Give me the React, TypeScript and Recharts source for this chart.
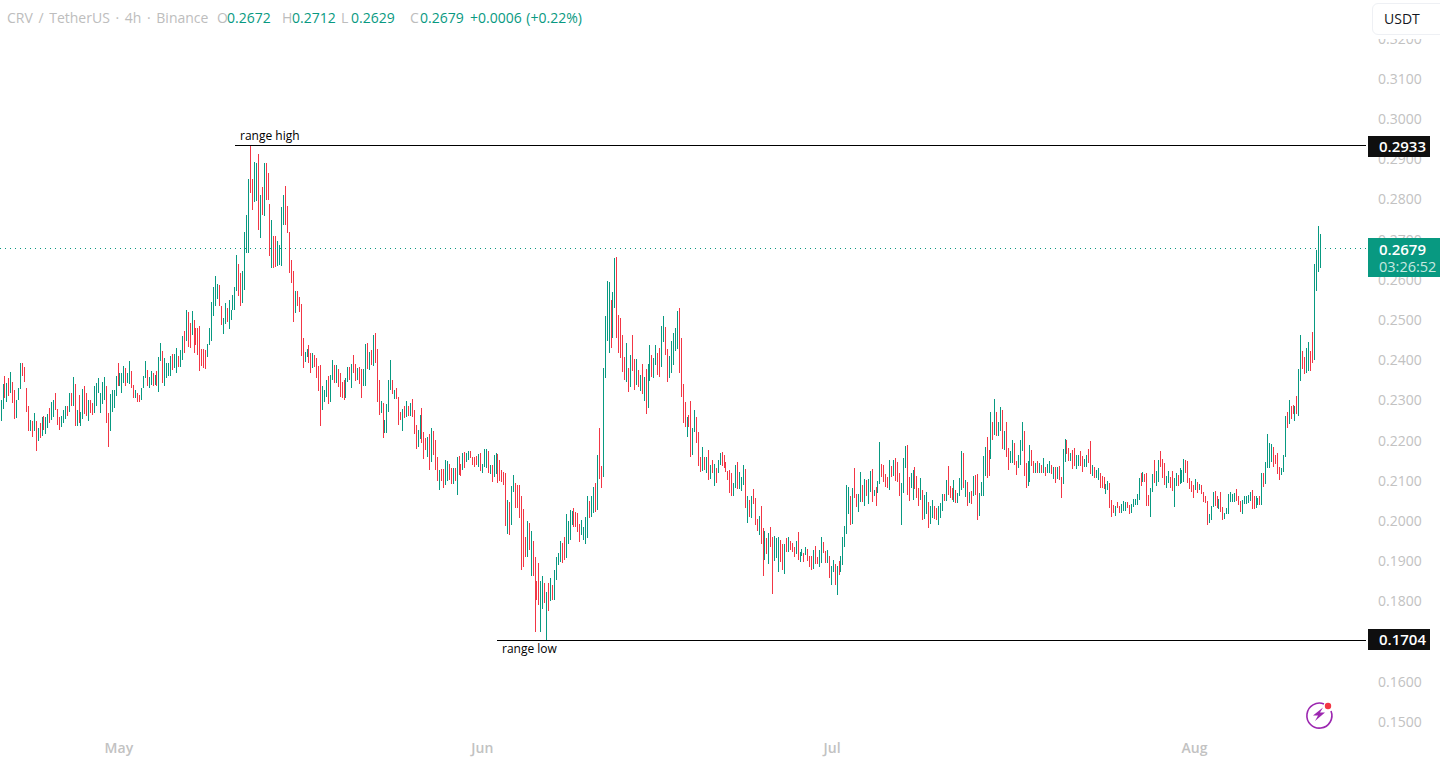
import React from "react";
import { Bar, ComposedChart, ReferenceLine, XAxis, YAxis } from "recharts";

// 4h bars, prices in 1/10000 USDT, ten bars per row
const highs = [
  2300, 2341, 2360, 2343, 2355, 2371, 2345, 2325, 2301, 2331,
  2393, 2393, 2383, 2330, 2287, 2252, 2248, 2268, 2250, 2231,
  2243, 2258, 2260, 2258, 2267, 2281, 2297, 2300, 2318, 2278,
  2258, 2262, 2277, 2287, 2287, 2318, 2318, 2358, 2341, 2277,
  2314, 2270, 2328, 2335, 2318, 2300, 2301, 2293, 2336, 2343,
  2355, 2318, 2345, 2358, 2336, 2268, 2316, 2325, 2325, 2360,
  2394, 2368, 2368, 2386, 2380, 2368, 2399, 2374, 2339, 2326,
  2318, 2314, 2331, 2361, 2397, 2376, 2358, 2372, 2369, 2364,
  2374, 2409, 2442, 2422, 2405, 2394, 2393, 2411, 2416, 2416,
  2430, 2411, 2426, 2459, 2473, 2525, 2521, 2492, 2523, 2501,
  2479, 2479, 2486, 2427, 2427, 2426, 2441, 2480, 2546, 2583,
  2610, 2590, 2588, 2534, 2505, 2543, 2530, 2550, 2525, 2563,
  2581, 2662, 2640, 2617, 2622, 2720, 2762, 2851, 2933, 2851,
  2892, 2890, 2913, 2811, 2832, 2890, 2890, 2865, 2789, 2749,
  2709, 2709, 2697, 2687, 2780, 2811, 2834, 2784, 2720, 2650,
  2622, 2573, 2573, 2556, 2541, 2454, 2421, 2428, 2438, 2417,
  2417, 2413, 2405, 2386, 2388, 2336, 2327, 2352, 2361, 2363,
  2400, 2388, 2388, 2378, 2367, 2347, 2351, 2355, 2382, 2382,
  2390, 2413, 2390, 2381, 2382, 2378, 2377, 2440, 2444, 2421,
  2425, 2463, 2468, 2428, 2352, 2299, 2293, 2251, 2291, 2351,
  2400, 2352, 2327, 2330, 2308, 2272, 2278, 2286, 2299, 2286,
  2293, 2303, 2276, 2239, 2226, 2264, 2281, 2221, 2207, 2208,
  2216, 2231, 2224, 2201, 2158, 2127, 2129, 2129, 2152, 2150,
  2142, 2133, 2133, 2131, 2160, 2162, 2143, 2170, 2172, 2170,
  2174, 2174, 2158, 2158, 2162, 2167, 2170, 2143, 2179, 2179,
  2174, 2139, 2139, 2164, 2170, 2167, 2152, 2127, 2123, 2120,
  2052, 2048, 2087, 2114, 2094, 2090, 2090, 2062, 2031, 1961,
  2001, 1994, 1976, 1951, 1911, 1852, 1895, 1852, 1862, 1845,
  1824, 1845, 1857, 1841, 1878, 1911, 1921, 1951, 1946, 1961,
  2017, 2001, 2027, 2026, 2033, 2023, 2019, 1993, 2003, 1986,
  2011, 2062, 2051, 2062, 2084, 2094, 2164, 2232, 2137, 2381,
  2510, 2597, 2594, 2550, 2570, 2654, 2657, 2512, 2504, 2463,
  2409, 2442, 2380, 2413, 2463, 2403, 2403, 2376, 2363, 2390,
  2359, 2378, 2390, 2438, 2413, 2405, 2438, 2419, 2431, 2485,
  2510, 2482, 2429, 2410, 2448, 2467, 2479, 2522, 2529, 2454,
  2342, 2295, 2258, 2264, 2298, 2231, 2276, 2258, 2222, 2158,
  2185, 2158, 2158, 2177, 2139, 2152, 2143, 2131, 2153, 2170,
  2172, 2164, 2146, 2125, 2127, 2120, 2095, 2139, 2148, 2123,
  2110, 2139, 2129, 2062, 2052, 2062, 2079, 2056, 2004, 2012,
  2037, 1982, 1975, 1957, 1969, 1986, 1961, 1963, 1957, 1959,
  1954, 1944, 1943, 1957, 1959, 1951, 1946, 1936, 1951, 1973,
  1924, 1930, 1921, 1935, 1930, 1913, 1913, 1928, 1938, 1911,
  1928, 1959, 1949, 1925, 1928, 1913, 1888, 1903, 1893, 1888,
  1901, 1913, 1961, 1988, 2090, 2084, 2061, 2082, 2131, 2067,
  2067, 2122, 2090, 2104, 2102, 2104, 2125, 2129, 2077, 2084,
  2100, 2196, 2143, 2139, 2117, 2110, 2152, 2137, 2153, 2156,
  2148, 2120, 2095, 2156, 2187, 2189, 2110, 2119, 2127, 2135,
  2112, 2082, 2106, 2077, 2065, 2073, 2048, 2038, 2052, 2038,
  2032, 2038, 2044, 2067, 2067, 2102, 2137, 2087, 2082, 2102,
  2077, 2069, 2106, 2173, 2169, 2102, 2096, 2073, 2075, 2112,
  2115, 2117, 2069, 2098, 2162, 2185, 2210, 2177, 2270, 2247,
  2304, 2272, 2247, 2283, 2275, 2225, 2247, 2182, 2175, 2202,
  2195, 2150, 2164, 2202, 2247, 2223, 2144, 2150, 2189, 2177,
  2150, 2144, 2150, 2144, 2140, 2156, 2135, 2142, 2150, 2140,
  2134, 2135, 2134, 2137, 2109, 2179, 2203, 2202, 2181, 2170,
  2177, 2182, 2164, 2164, 2173, 2162, 2155, 2164, 2179, 2199,
  2140, 2134, 2127, 2131, 2119, 2111, 2109, 2092, 2099, 2094,
  2053, 2040, 2038, 2048, 2038, 2043, 2049, 2048, 2048, 2040,
  2043, 2055, 2055, 2067, 2107, 2119, 2121, 2117, 2119, 2065,
  2082, 2117, 2152, 2124, 2152, 2174, 2155, 2144, 2112, 2124,
  2109, 2125, 2107, 2119, 2115, 2132, 2127, 2154, 2152, 2150,
  2106, 2099, 2090, 2105, 2097, 2092, 2090, 2072, 2062, 2051,
  2018, 2038, 2072, 2075, 2062, 2055, 2072, 2036, 2019, 2032,
  2067, 2071, 2067, 2069, 2080, 2062, 2050, 2053, 2062, 2062,
  2065, 2073, 2077, 2061, 2061, 2058, 2062, 2120, 2120, 2148,
  2217, 2193, 2192, 2185, 2164, 2169, 2134, 2133, 2164, 2261,
  2270, 2301, 2285, 2289, 2286, 2310, 2379, 2463, 2424, 2409,
  2431, 2446, 2424, 2471, 2640, 2673, 2734, 2714,
];

const lows = [
  2250, 2278, 2305, 2295, 2310, 2318, 2293, 2253, 2255, 2300,
  2328, 2360, 2347, 2270, 2223, 2223, 2209, 2223, 2173, 2200,
  2206, 2212, 2227, 2217, 2231, 2243, 2252, 2258, 2275, 2239,
  2227, 2234, 2243, 2253, 2260, 2270, 2287, 2287, 2237, 2237,
  2243, 2237, 2253, 2267, 2262, 2248, 2268, 2264, 2268, 2285,
  2318, 2268, 2290, 2300, 2243, 2185, 2224, 2272, 2280, 2310,
  2335, 2335, 2318, 2343, 2335, 2343, 2341, 2331, 2306, 2306,
  2295, 2297, 2301, 2331, 2355, 2335, 2331, 2339, 2335, 2339,
  2336, 2320, 2397, 2343, 2335, 2355, 2360, 2361, 2376, 2380,
  2368, 2384, 2383, 2400, 2418, 2447, 2434, 2430, 2463, 2419,
  2438, 2413, 2372, 2386, 2380, 2379, 2409, 2438, 2447, 2509,
  2534, 2552, 2535, 2488, 2466, 2489, 2494, 2477, 2500, 2525,
  2525, 2573, 2560, 2534, 2542, 2575, 2666, 2666, 2815, 2774,
  2793, 2795, 2723, 2704, 2762, 2759, 2799, 2799, 2658, 2629,
  2629, 2633, 2635, 2637, 2635, 2737, 2737, 2716, 2617, 2592,
  2496, 2517, 2534, 2521, 2410, 2380, 2396, 2409, 2392, 2367,
  2380, 2384, 2355, 2324, 2236, 2276, 2296, 2309, 2291, 2296,
  2352, 2344, 2344, 2334, 2309, 2305, 2301, 2305, 2347, 2352,
  2332, 2367, 2349, 2351, 2341, 2305, 2336, 2336, 2377, 2376,
  2388, 2386, 2394, 2297, 2264, 2268, 2206, 2218, 2220, 2272,
  2326, 2316, 2304, 2304, 2239, 2251, 2225, 2255, 2259, 2261,
  2261, 2259, 2216, 2179, 2185, 2203, 2193, 2154, 2177, 2160,
  2127, 2148, 2164, 2127, 2100, 2077, 2100, 2081, 2090, 2100,
  2102, 2092, 2092, 2100, 2065, 2114, 2112, 2127, 2131, 2148,
  2153, 2156, 2139, 2135, 2139, 2135, 2125, 2120, 2135, 2133,
  2119, 2117, 2098, 2110, 2117, 2095, 2100, 2098, 2090, 1988,
  1968, 1965, 1990, 2073, 2032, 2032, 2007, 1878, 1886, 1911,
  1911, 1928, 1863, 1862, 1725, 1804, 1791, 1725, 1780, 1797,
  1704, 1775, 1800, 1803, 1803, 1853, 1891, 1899, 1896, 1903,
  1907, 1944, 1954, 1990, 1986, 1986, 1973, 1949, 1965, 1954,
  1944, 1957, 2007, 2009, 2019, 2023, 2027, 2104, 2081, 2110,
  2355, 2449, 2419, 2431, 2456, 2531, 2454, 2419, 2405, 2371,
  2351, 2347, 2322, 2334, 2374, 2327, 2338, 2334, 2324, 2316,
  2299, 2266, 2282, 2349, 2357, 2355, 2388, 2363, 2359, 2382,
  2446, 2413, 2347, 2355, 2369, 2388, 2424, 2429, 2369, 2309,
  2245, 2233, 2210, 2233, 2160, 2164, 2222, 2195, 2137, 2123,
  2125, 2128, 2120, 2102, 2104, 2120, 2087, 2095, 2120, 2139,
  2137, 2131, 2123, 2102, 2070, 2062, 2061, 2081, 2079, 2079,
  2075, 2090, 2032, 1996, 2011, 2007, 2042, 1990, 1976, 1965,
  1943, 1862, 1903, 1918, 1893, 1936, 1818, 1901, 1908, 1874,
  1899, 1878, 1868, 1924, 1924, 1928, 1924, 1911, 1918, 1903,
  1899, 1913, 1899, 1916, 1901, 1886, 1877, 1880, 1893, 1893,
  1885, 1895, 1921, 1896, 1895, 1857, 1841, 1874, 1841, 1816,
  1866, 1874, 1891, 1936, 1968, 2017, 1990, 1993, 2056, 2034,
  2023, 2048, 2048, 2037, 2061, 2042, 2073, 2048, 2061, 2037,
  2069, 2092, 2110, 2098, 2085, 2081, 2077, 2110, 2112, 2100,
  2098, 2061, 1990, 2069, 2131, 2065, 2051, 2081, 2052, 2080,
  2056, 2037, 2052, 2003, 2004, 2018, 1982, 1993, 2007, 2004,
  2003, 1990, 2007, 2024, 2051, 2051, 2065, 2057, 2053, 2048,
  2046, 2046, 2061, 2076, 2082, 2059, 2038, 2046, 2043, 2061,
  2065, 2003, 2013, 2061, 2061, 2111, 2106, 2112, 2155, 2202,
  2214, 2212, 2212, 2225, 2179, 2177, 2159, 2127, 2145, 2144,
  2140, 2115, 2131, 2140, 2175, 2111, 2082, 2086, 2096, 2137,
  2119, 2119, 2119, 2119, 2119, 2119, 2112, 2119, 2119, 2117,
  2104, 2094, 2104, 2101, 2058, 2092, 2148, 2167, 2150, 2150,
  2129, 2137, 2130, 2137, 2137, 2123, 2135, 2134, 2144, 2117,
  2112, 2106, 2106, 2102, 2081, 2081, 2079, 2067, 2076, 2032,
  2009, 2021, 2013, 2032, 2019, 2021, 2026, 2026, 2032, 2018,
  2021, 2034, 2039, 2041, 2053, 2086, 2097, 2098, 2038, 2038,
  2011, 2071, 2094, 2087, 2096, 2135, 2107, 2090, 2082, 2094,
  2082, 2075, 2035, 2087, 2086, 2092, 2094, 2096, 2119, 2094,
  2080, 2072, 2058, 2076, 2069, 2077, 2067, 2048, 2046, 1990,
  1996, 2003, 2034, 2038, 2032, 2030, 2023, 2003, 2004, 2018,
  2018, 2048, 2048, 2048, 2051, 2040, 2023, 2018, 2043, 2043,
  2045, 2051, 2031, 2029, 2032, 2039, 2040, 2039, 2084, 2092,
  2131, 2131, 2148, 2134, 2142, 2117, 2102, 2115, 2122, 2158,
  2232, 2242, 2253, 2266, 2249, 2266, 2262, 2349, 2379, 2366,
  2368, 2374, 2374, 2394, 2401, 2571, 2620, 2630,
];

// 1 = closed up (green), 0 = closed down (red)
const closedUp = [
  1, 1, 0, 1, 0, 1, 0, 0, 1, 1,
  1, 0, 0, 0, 0, 1, 0, 1, 0, 1,
  0, 1, 0, 1, 1, 0, 1, 1, 0, 0,
  0, 1, 1, 1, 0, 1, 0, 1, 0, 1,
  0, 1, 1, 0, 0, 1, 0, 0, 1, 1,
  1, 1, 1, 1, 0, 0, 1, 1, 1, 1,
  0, 1, 1, 1, 0, 1, 1, 0, 0, 1,
  0, 0, 1, 1, 1, 0, 1, 1, 0, 1,
  0, 1, 1, 0, 1, 1, 1, 1, 0, 1,
  1, 0, 1, 1, 0, 1, 0, 0, 1, 0,
  0, 0, 0, 0, 0, 0, 1, 1, 1, 1,
  1, 1, 0, 0, 1, 1, 0, 1, 1, 1,
  1, 1, 0, 0, 1, 1, 1, 1, 0, 0,
  1, 1, 0, 1, 0, 1, 0, 0, 0, 1,
  0, 0, 1, 1, 1, 1, 0, 0, 0, 0,
  0, 1, 0, 0, 0, 0, 1, 1, 0, 0,
  1, 0, 0, 0, 0, 1, 1, 1, 0, 1,
  1, 0, 1, 0, 0, 0, 0, 1, 1, 0,
  1, 0, 0, 1, 0, 0, 1, 1, 0, 1,
  0, 1, 0, 0, 0, 1, 0, 1, 1, 1,
  1, 0, 1, 0, 0, 0, 1, 0, 1, 0,
  1, 0, 0, 0, 1, 1, 0, 0, 0, 1,
  0, 1, 0, 0, 0, 1, 0, 0, 1, 1,
  0, 0, 1, 0, 1, 0, 0, 1, 0, 1,
  1, 0, 0, 0, 0, 1, 0, 1, 1, 1,
  0, 1, 0, 1, 1, 0, 0, 0, 0, 0,
  1, 0, 1, 1, 0, 0, 0, 0, 0, 0,
  1, 0, 1, 0, 0, 0, 0, 1, 1, 0,
  1, 0, 1, 0, 1, 1, 1, 1, 0, 0,
  1, 1, 1, 1, 0, 0, 0, 0, 1, 1,
  1, 1, 0, 1, 1, 0, 1, 0, 0, 1,
  1, 1, 1, 0, 1, 1, 0, 0, 0, 0,
  0, 1, 0, 1, 0, 0, 1, 0, 1, 0,
  1, 0, 1, 1, 0, 1, 1, 0, 0, 1,
  1, 0, 0, 1, 1, 1, 1, 1, 0, 0,
  0, 0, 1, 0, 0, 1, 1, 0, 0, 0,
  1, 0, 1, 0, 1, 0, 1, 0, 1, 1,
  0, 0, 0, 0, 0, 0, 1, 1, 0, 1,
  1, 1, 0, 1, 0, 1, 0, 0, 0, 1,
  0, 0, 1, 0, 1, 0, 0, 1, 1, 1,
  0, 0, 1, 0, 1, 0, 0, 0, 1, 0,
  1, 1, 0, 1, 0, 0, 0, 1, 0, 0,
  1, 1, 0, 0, 1, 0, 1, 1, 0, 1,
  0, 1, 1, 1, 1, 1, 0, 1, 0, 0,
  1, 1, 0, 1, 0, 1, 1, 0, 1, 0,
  1, 1, 0, 0, 0, 0, 1, 0, 1, 0,
  0, 0, 1, 1, 1, 0, 0, 1, 1, 0,
  0, 0, 1, 0, 1, 1, 0, 1, 1, 0,
  0, 1, 1, 1, 0, 1, 0, 0, 0, 1,
  0, 1, 1, 1, 0, 1, 0, 1, 0, 1,
  0, 0, 1, 1, 1, 1, 0, 0, 1, 0,
  1, 0, 1, 1, 0, 1, 0, 0, 1, 1,
  0, 0, 1, 1, 1, 0, 0, 1, 1, 0,
  0, 1, 0, 1, 0, 1, 0, 1, 1, 0,
  1, 0, 1, 0, 0, 1, 1, 0, 0, 1,
  0, 0, 1, 1, 0, 0, 1, 1, 0, 0,
  1, 0, 1, 1, 0, 0, 0, 1, 1, 0,
  0, 0, 1, 0, 0, 1, 1, 1, 0, 0,
  1, 1, 1, 1, 1, 0, 1, 0, 0, 0,
  1, 1, 0, 1, 1, 0, 0, 0, 1, 1,
  0, 0, 1, 1, 0, 1, 1, 1, 0, 0,
  0, 0, 0, 1, 0, 1, 0, 0, 0, 0,
  1, 1, 1, 0, 0, 1, 0, 0, 1, 1,
  1, 1, 1, 1, 0, 0, 0, 1, 1, 1,
  1, 1, 0, 0, 1, 1, 0, 1, 0, 1,
  1, 1, 1, 0, 0, 0, 0, 1, 1, 1,
  0, 1, 0, 0, 1, 0, 1, 1, 0, 0,
  1, 1, 0, 0, 1, 1, 1, 1,
];

const priceTicks = [
  0.15, 0.16, 0.17, 0.18, 0.19, 0.2, 0.21, 0.22, 0.23, 0.24, 0.25, 0.26, 0.27,
  0.28, 0.29, 0.3, 0.31, 0.32,
];
const monthTicks = [60.2, 246.7, 426.2, 612.2];
const monthLabels = ["May", "Jun", "Jul", "Aug"];

const RANGE_HIGH = 0.2933;
const RANGE_LOW = 0.1704;
const LAST_PRICE = 0.2679;

const UP = "#089981";
const DOWN = "#f23645";
const AXIS_TEXT = "#c2c2c2";
const FONT = "'Open Sans', sans-serif";

const bars = highs.map((high, i) => ({
  i,
  range: [lows[i] / 10000, high / 10000],
  up: closedUp[i] === 1,
}));

// thin high-low stick, snapped to the pixel grid like the original canvas
const Stick = (props: any) => {
  const { x, y, height, payload } = props;
  return (
    <rect
      x={Math.round(x)}
      y={y}
      width={1}
      height={height}
      fill={payload.up ? UP : DOWN}
      shapeRendering="crispEdges"
    />
  );
};

const headerItems = [
  { text: "CRV / TetherUS · 4h · Binance", left: 7, color: "#bdbdbd", spacing: 2 },
  { text: "O", left: 217, color: "#bdbdbd", spacing: 0 },
  { text: "0.2672", left: 227, color: UP, spacing: 0 },
  { text: "H", left: 282, color: "#bdbdbd", spacing: 0 },
  { text: "0.2712", left: 292, color: UP, spacing: 0 },
  { text: "L", left: 341, color: "#bdbdbd", spacing: 0 },
  { text: "0.2629", left: 351, color: UP, spacing: 0 },
  { text: "C", left: 410, color: "#bdbdbd", spacing: 0 },
  { text: "0.2679", left: 420, color: UP, spacing: 0 },
  { text: "+0.0006 (+0.22%)", left: 470, color: UP, spacing: 1 },
];

const overlayText: React.CSSProperties = {
  position: "absolute",
  fontFamily: FONT,
  fontSize: 14,
  lineHeight: "20px",
  whiteSpace: "nowrap",
};

const PriceBadge = ({ top, label }: { top: number; label: string }) => (
  <div
    style={{
      ...overlayText,
      left: 1368,
      top,
      width: 62,
      height: 21,
      background: "#0f0f0f",
      color: "#fff",
      fontSize: 15,
      fontWeight: 600,
      lineHeight: "21px",
      paddingLeft: 11,
      boxSizing: "border-box",
    }}
  >
    {label}
  </div>
);

export default function App() {
  return (
    <div
      style={{
        position: "absolute",
        left: 0,
        top: 0,
        width: 1440,
        height: 760,
        background: "#fff",
        overflow: "hidden",
      }}
    >
      <ComposedChart
        width={1440}
        height={760}
        data={bars}
        margin={{ top: 0, right: 0, bottom: 0, left: 0 }}
      >
        <XAxis
          dataKey="i"
          type="number"
          domain={[-0.8, 700.2]}
          ticks={monthTicks}
          tickFormatter={(v: number) => monthLabels[monthTicks.indexOf(v)]}
          axisLine={false}
          tickLine={false}
          height={25}
          tick={{ fill: AXIS_TEXT, fontSize: 14, fontFamily: FONT, fontWeight: 600 }}
        />
        <YAxis
          orientation="right"
          width={74}
          domain={[0.14677, 0.3296]}
          ticks={priceTicks}
          tickFormatter={(v: number) => v.toFixed(4)}
          axisLine={false}
          tickLine={false}
          interval={0}
          tick={{ fill: AXIS_TEXT, fontSize: 14, fontFamily: FONT, dx: 4 }}
        />
        <ReferenceLine
          y={LAST_PRICE}
          stroke={UP}
          strokeDasharray="1 4"
          shapeRendering="crispEdges"
        />
        <ReferenceLine
          segment={[
            { x: 119.8, y: RANGE_HIGH },
            { x: 700.2, y: RANGE_HIGH },
          ]}
          stroke="#000"
          shapeRendering="crispEdges"
        />
        <ReferenceLine
          segment={[
            { x: 254.2, y: RANGE_LOW },
            { x: 700.2, y: RANGE_LOW },
          ]}
          stroke="#000"
          shapeRendering="crispEdges"
        />
        <Bar
          dataKey="range"
          barSize={1}
          isAnimationActive={false}
          shape={<Stick />}
        />
      </ComposedChart>

      {headerItems.map((item) => (
        <div
          key={item.text + item.left}
          style={{
            ...overlayText,
            left: item.left,
            top: 8,
            color: item.color,
            wordSpacing: item.spacing,
          }}
        >
          {item.text}
        </div>
      ))}

      <div style={{ ...overlayText, left: 240, top: 126, fontSize: 12, color: "#000" }}>
        range high
      </div>
      <div style={{ ...overlayText, left: 502, top: 639, fontSize: 12, color: "#000" }}>
        range low
      </div>

      <div
        style={{
          position: "absolute",
          left: 1366,
          top: 0,
          width: 74,
          height: 39,
          background: "#fff",
        }}
      />
      <div
        style={{
          ...overlayText,
          left: 1372,
          top: 3,
          width: 80,
          height: 30,
          border: "1px solid #eef0f4",
          borderRadius: 6,
          background: "#fff",
          color: "#131722",
          lineHeight: "30px",
          paddingLeft: 11,
        }}
      >
        USDT
      </div>

      <PriceBadge top={136} label={RANGE_HIGH.toFixed(4)} />
      <PriceBadge top={629} label={RANGE_LOW.toFixed(4)} />

      <div
        style={{
          position: "absolute",
          left: 1368,
          top: 238,
          width: 72,
          height: 39,
          background: UP,
        }}
      >
        <div
          style={{ ...overlayText, left: 11, top: 1, fontSize: 15, color: "#fff", fontWeight: 600 }}
        >
          {LAST_PRICE.toFixed(4)}
        </div>
        <div style={{ ...overlayText, left: 11, top: 19, fontSize: 14.5, color: "#c6e8e0" }}>
          03:26:52
        </div>
      </div>

      <svg
        style={{ position: "absolute", left: 1303, top: 698 }}
        width={32}
        height={32}
        viewBox="0 0 32 32"
      >
        <path
          d="M 21 6 A 12.5 12.5 0 1 0 28 13"
          fill="none"
          stroke="#9c27b0"
          strokeWidth={1.6}
        />
        <path d="M 20 9.5 L 10 17.5 L 15 17.5 L 12 23 L 22 14.5 L 17 14.5 Z" fill="#9c27b0" />
        <circle cx={25} cy={8} r={3.2} fill={DOWN} />
      </svg>
    </div>
  );
}
